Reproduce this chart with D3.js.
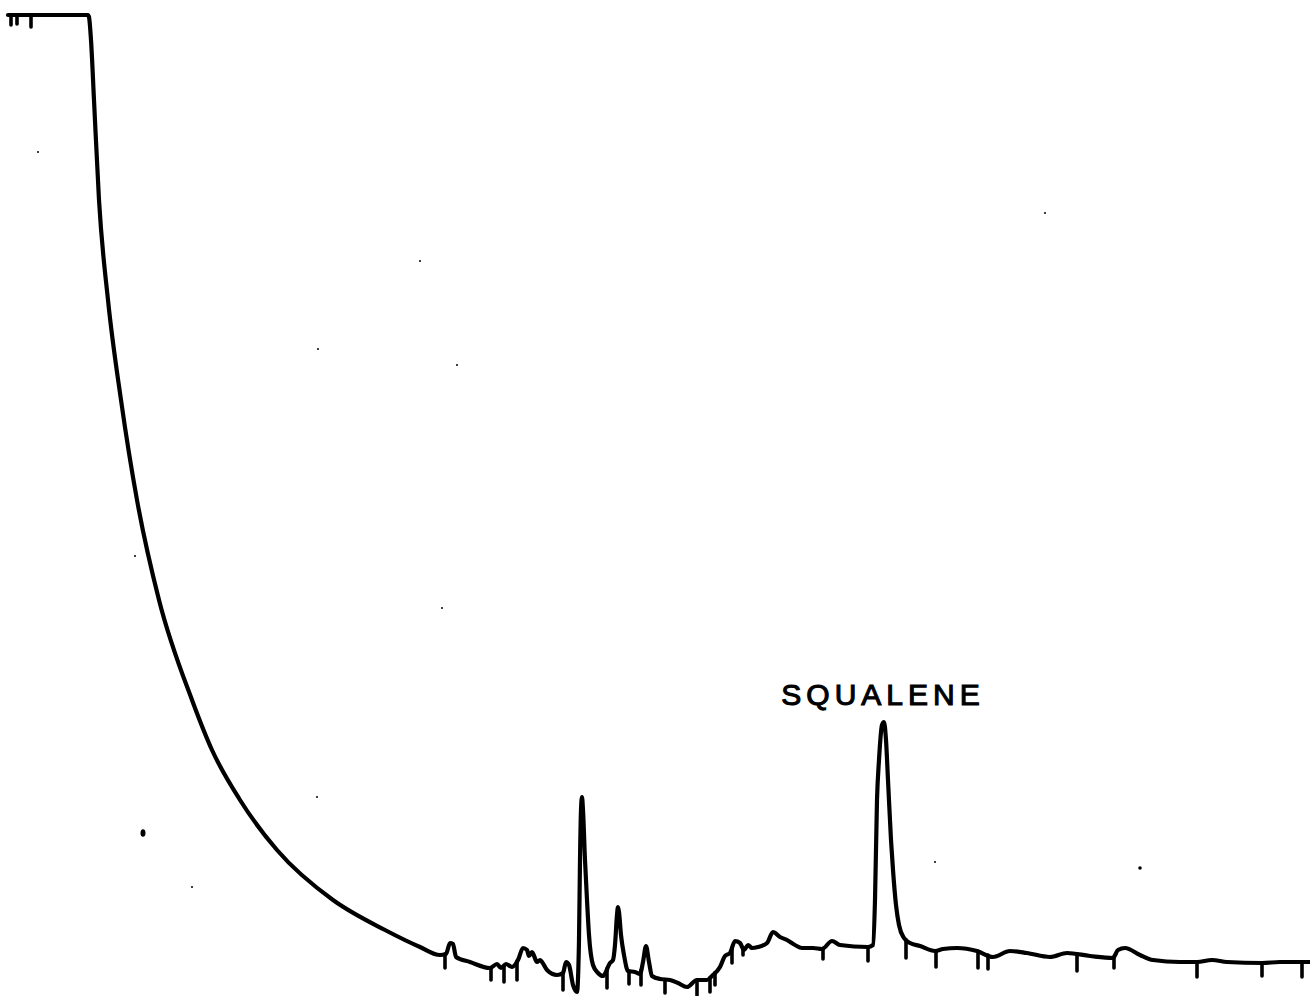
<!DOCTYPE html>
<html>
<head>
<meta charset="utf-8">
<script src="https://cdn.jsdelivr.net/npm/d3@7"></script>
<style>
  html, body { margin: 0; padding: 0; background: #fff; }
  svg { display: block; }
</style>
</head>
<body>
<svg id="chart" width="1310" height="996"></svg>
<script>
// Retention time (min) and detector response (% of full scale)
const traceTime = [
  0.40, 4.40, 4.45, 4.55, 4.70, 4.95, 5.40, 6.05, 6.85, 7.95, 9.60, 10.60, 12.00,
  13.85, 16.65, 19.25, 21.00, 22.00, 22.30, 22.50, 22.65, 22.80, 23.50, 24.50, 24.85,
  25.05, 25.30, 25.60, 25.90, 26.15, 26.35, 26.45, 26.60, 26.85, 27.00, 27.10, 27.35, 27.85,
  28.15, 28.30, 28.45, 28.65, 28.85, 28.95, 29.00, 29.05, 29.10, 29.15, 29.25, 29.35, 29.45,
  29.65, 29.90, 30.15, 30.50, 30.65, 30.75, 30.85, 30.90, 30.95, 31.05, 31.20, 31.40, 31.75,
  32.00, 32.15, 32.30, 32.45, 32.60, 33.00, 33.50, 33.90, 34.35, 34.85, 35.35, 35.60, 36.00,
  36.25, 36.50, 36.75, 37.00, 37.20, 37.40, 37.60, 37.90, 38.35, 38.65, 39.00, 39.35, 39.75,
  40.10, 40.65, 41.10, 41.60, 42.00, 43.40, 43.65, 43.75, 43.85, 43.95, 44.10, 44.20, 44.30,
  44.40, 44.55, 44.65, 44.80, 44.95, 45.20, 45.50, 46.00, 46.75, 47.15, 47.85, 48.85, 49.65,
  50.50, 51.35, 52.50, 53.35, 54.50, 55.65, 55.90, 56.25, 57.00, 57.65, 59.00, 59.85, 60.60,
  61.35, 63.10, 64.00, 65.50
];
const traceResponse = [
  98.5, 98.5, 98.3, 96.0, 90.0, 80.0, 70.0, 60.0, 50.0, 40.0, 30.0, 25.0, 20.0,
  15.0, 10.0, 7.0, 5.3, 4.5, 4.6, 5.7, 5.6, 4.3, 3.8, 3.2, 3.6,
  3.2, 3.6, 3.3, 4.0, 5.2, 5.0, 4.4, 4.8, 3.8, 4.0, 3.8, 3.0, 2.5,
  2.7, 3.8, 3.5, 1.5, 0.8, 6.0, 14.0, 19.0, 20.3, 19.0, 14.0, 10.0, 6.5,
  3.5, 2.7, 2.4, 3.7, 4.0, 5.5, 8.5, 9.3, 8.8, 6.5, 4.5, 2.9, 2.8,
  2.6, 3.8, 5.4, 3.8, 2.4, 2.1, 2.0, 1.7, 1.3, 2.0, 2.0, 2.4, 3.3,
  4.4, 4.7, 5.9, 5.7, 5.0, 5.5, 5.2, 5.3, 5.7, 6.8, 6.3, 6.0, 5.5,
  5.2, 5.2, 5.1, 5.9, 5.5, 5.3, 5.5, 10.0, 20.0, 24.0, 27.5, 27.8, 26.0,
  22.0, 16.0, 13.0, 9.5, 7.5, 6.2, 5.7, 5.4, 4.9, 5.1, 5.2, 4.9, 4.3,
  4.9, 4.7, 4.3, 4.7, 4.4, 4.2, 5.0, 5.2, 4.5, 4.0, 3.8, 3.8, 4.0,
  3.8, 3.7, 3.8, 3.8
];

// Integrator event marks: time and lower end of the mark (response units)
const markTime = [0.55, 0.85, 1.55, 22.25, 24.55, 25.20, 25.85, 28.15, 30.35, 31.45, 32.05, 33.25,
  34.85, 35.50, 35.75, 36.60, 37.15, 41.15, 43.40, 45.30, 46.80, 48.90, 49.40, 53.85, 55.70,
  59.85, 63.10, 65.10];
const markEnd = [97.5, 97.6, 97.3, 3.2, 2.0, 1.8, 2.0, 1.0, 1.2, 1.6, 1.5, 0.7,
  0.5, 0.8, 1.5, 3.7, 4.5, 4.1, 3.9, 4.2, 3.3, 3.2, 3.1, 2.9, 3.2,
  2.3, 2.4, 2.3];

// Peak annotation
const peakLabels = ["SQUALENE"];
const peakTimes = [44.20];
const peakHeights = [27.8];

// Scan specks on the original paper
const speckTime = [7.15, 57.0, 1.9, 6.75, 9.6, 15.85, 22.1, 22.85, 21.0, 52.25, 46.75, 15.9];
const speckResp = [16.7, 13.2, 84.8, 44.4, 11.3, 20.3, 39.2, 63.5, 73.9, 78.7, 13.8, 65.1];

const W = 1310, H = 996;
const x = d3.scaleLinear().domain([0, 65.5]).range([0, W]);
const y = d3.scaleLinear().domain([0, 100]).range([1000, 0]);

const svg = d3.select("#chart");

const trace = traceTime.map((t, i) => [t, traceResponse[i]]);
const line = d3.line().x(d => x(d[0])).y(d => y(d[1])).curve(d3.curveMonotoneX);

svg.append("path")
  .datum(trace)
  .attr("d", line)
  .attr("fill", "none")
  .attr("stroke", "#000")
  .attr("stroke-width", 4.2)
  .attr("stroke-linejoin", "round")
  .attr("stroke-linecap", "round");

// response on trace at time t (linear interpolation)
function respAt(t) {
  const bis = d3.bisector(d => d[0]).left;
  let i = bis(trace, t);
  if (i <= 0) return trace[0][1];
  if (i >= trace.length) return trace[trace.length - 1][1];
  const a = trace[i - 1], b = trace[i];
  return a[1] + (b[1] - a[1]) * (t - a[0]) / (b[0] - a[0]);
}

svg.append("g").selectAll("line")
  .data(markTime.map((t, i) => ({ t, end: markEnd[i] })))
  .join("line")
  .attr("x1", d => x(d.t)).attr("x2", d => x(d.t))
  .attr("y1", d => y(respAt(d.t)))
  .attr("y2", d => y(d.end))
  .attr("stroke", "#000")
  .attr("stroke-width", 3.6)
  .attr("stroke-linecap", "round");

svg.append("g").selectAll("text")
  .data(peakLabels.map((l, i) => ({ l, t: peakTimes[i], h: peakHeights[i] })))
  .join("text")
  .attr("x", d => x(d.t) - 1)
  .attr("y", d => y(d.h) - 17)
  .attr("text-anchor", "middle")
  .attr("font-family", "'Liberation Sans', Arial, sans-serif")
  .attr("font-size", 30)
  .attr("letter-spacing", 5.0)
  .attr("fill", "#000")
  .attr("stroke", "#000")
  .attr("stroke-width", 1.1)
  .text(d => d.l);

svg.append("g").selectAll("ellipse")
  .data(speckTime.map((t, i) => ({ t, r: speckResp[i], i })))
  .join("ellipse")
  .attr("cx", d => x(d.t)).attr("cy", d => y(d.r))
  .attr("rx", d => d.i === 0 ? 2.5 : (d.i === 1 ? 1.8 : 1))
  .attr("ry", d => d.i === 0 ? 3.8 : (d.i === 1 ? 1.8 : 1))
  .attr("fill", "#000");
</script>
</body>
</html>
